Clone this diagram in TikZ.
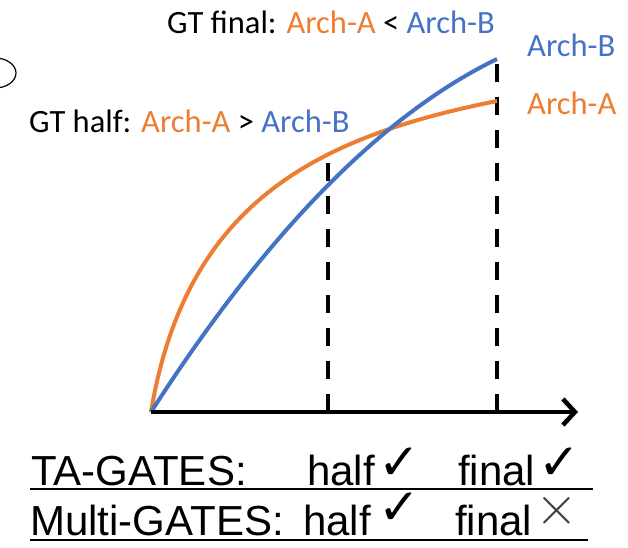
\documentclass[tikz,border=0pt]{standalone}
\usepackage{graphicx}
\usepackage{fontspec}
\setmainfont{Liberation Sans}
\newfontfamily\labelfont{Carlito}
\newfontfamily\symfont{DejaVu Sans}
\usetikzlibrary{arrows.meta}
\definecolor{archA}{HTML}{ED7D31}
\definecolor{archB}{HTML}{4472C4}
\definecolor{crossgray}{HTML}{404040}
\begin{document}
\begin{tikzpicture}[x=1pt,y=-1pt,
  lbl/.style={font=\labelfont\fontsize{32.5}{32.5}\selectfont, inner sep=0pt, anchor=west},
  rowtext/.style={font=\fontsize{42}{42}\selectfont, inner sep=0pt, anchor=base west},
  chk/.style={font=\symfont\fontsize{50}{50}\selectfont, inner sep=0pt, anchor=base west},
  xmark/.style={font=\fontsize{10}{10}\selectfont, inner sep=0pt, anchor=center, text=crossgray},
  curveA/.style={archA, line width=4pt},
  curveB/.style={archB, line width=4pt},
  guide/.style={black, line width=4pt, dash pattern=on 18pt off 15pt},
  rowrule/.style={black, line width=2pt}
]
\clip (0,0) rectangle (628,547);

% axes and reference points
\coordinate (O) at (151,412);
\coordinate (xend) at (578,412);
\coordinate (Aend) at (497,101);
\coordinate (Bend) at (497,59);
\coordinate (halfbase) at (328,412);
\coordinate (halftop) at (328,160);
\coordinate (finalbase) at (497,412);
\coordinate (finaltop) at (497,59);

% partial outline at the left edge
\draw[line width=1.2pt] (-5,73) ellipse[x radius=21, y radius=15];

% checkpoint guides
\draw[guide] (halfbase) -- (halftop);
\draw[guide] (finalbase) -- (finaltop);

% learning curves: A saturates early, B keeps rising
\draw[curveA] (O) .. controls (186,202) and (317,137) .. (Aend);
\draw[curveB] (O) .. controls (266.3,232.7) and (381.7,115) .. (Bend);

% time axis
\draw[line width=4.5pt, -{Straight Barb[length=12pt,width=26pt]}] (O) -- (xend);

% curve labels
\node[lbl] (gtfinal) at (167,22) {GT final: \textcolor{archA}{Arch-A} < \textcolor{archB}{Arch-B}};
\node[lbl, text=archB] (labB) at (527,45) {Arch-B};
\node[lbl, text=archA] (labA) at (527,103) {Arch-A};
\node[lbl] (gthalf) at (29,121) {GT half: \textcolor{archA}{Arch-A} > \textcolor{archB}{Arch-B}};

% verdict table
\node[rowtext] (ta) at (31,485) {TA-GATES:};
\node[rowtext] (tahalf) at (307,485) {half};
\node[chk] (tahalfok) at (378,479) {✓};
\node[rowtext] (tafinal) at (458,485) {final};
\node[chk] (tafinalok) at (538,479) {✓};
\coordinate (r1l) at (30,489);
\coordinate (r1r) at (593,489);
\draw[rowrule] (r1l) -- (r1r);

\node[rowtext] (mg) at (30,535) {Multi-GATES:};
\node[rowtext] (mghalf) at (303,535) {half};
\node[chk] (mghalfok) at (378,524) {✓};
\node[rowtext] (mgfinal) at (455,535) {final};
\node[xmark] (mgfinalno) at (557,511) {\scalebox{5.5}{$\times$}};
\coordinate (r2l) at (30,540);
\coordinate (r2r) at (588,540);
\draw[rowrule] (r2l) -- (r2r);
\end{tikzpicture}
\end{document}
